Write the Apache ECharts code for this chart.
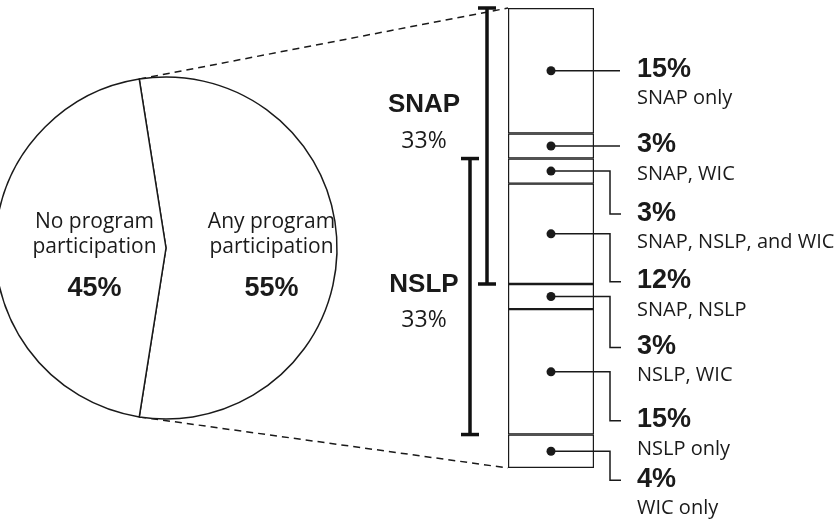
<!DOCTYPE html>
<html>
<head>
<meta charset="utf-8">
<script src="https://cdn.jsdelivr.net/npm/echarts@6/dist/echarts.min.js"></script>
<style>
    html, body { margin: 0; padding: 0; background: #fff; }
    #chart { width: 836px; height: 525px; }
</style>
</head>
<body>
<div id="chart"></div>
<script>
// pie: share of households by participation
const pieNames = ['Any program\nparticipation', 'No program\nparticipation'];
const pieValues = [55, 45];

// breakdown of the "any program" slice, top to bottom
const segmentNames = ['SNAP only', 'SNAP, WIC', 'SNAP, NSLP, and WIC', 'SNAP, NSLP', 'NSLP, WIC', 'NSLP only', 'WIC only'];
const segmentValues = [15, 3, 3, 12, 3, 15, 4];

// programs bracketed next to the bar (first and last segment index)
const programNames = ['SNAP', 'NSLP'];
const programShares = [33, 33];
const programSpans = [[0, 3], [2, 5]];

// layout only
const PIE_CENTER = [166, 248];
const PIE_RADIUS = 171;
const PIE_START = 90 + (pieValues[0] - 50) * 1.8;
const labelDy = [0, 0, 43, 48, 51, 49, 29];
const bracketGap = [21, 38];
const bracketLabelDy = [97, 126];
const INK = '#1a1a1a';

const starts = [];
segmentValues.reduce((acc, v) => { starts.push(acc); return acc + v; }, 0);
const total = segmentValues.reduce((a, b) => a + b, 0);

const chart = echarts.init(document.getElementById('chart'));

const textEl = (text, x, y, font, align) => ({
    type: 'text',
    style: {
        text: text, x: x, y: y, font: font, fill: INK,
        align: align, verticalAlign: 'middle',
        textAlign: align, textVerticalAlign: 'middle'
    }
});

const renderConnector = (params, api) => {
    const i = params.dataIndex;
    const c = api.coord([0, starts[i] + segmentValues[i] / 2]);
    const cx = c[0], cy = c[1];
    const ly = cy + labelDy[i];
    const pts = labelDy[i] === 0
        ? [[cx, cy], [cx + 69, cy]]
        : [[cx, cy], [cx + 59, cy], [cx + 59, ly], [cx + 70, ly]];
    return {
        type: 'group',
        children: [
            { type: 'polyline', shape: { points: pts }, style: { stroke: INK, lineWidth: 1.5, fill: null } },
            { type: 'circle', shape: { cx: cx, cy: cy, r: 4.5 }, style: { fill: INK } },
            textEl(segmentValues[i] + '%', cx + 86, ly - 1, 'bold 27px "Liberation Sans", Arial, sans-serif', 'left'),
            textEl(segmentNames[i], cx + 86, ly + 28, '20px "Open Sans", sans-serif', 'left')
        ]
    };
};

const renderBracket = (params, api) => {
    const i = params.dataIndex;
    const span = programSpans[i];
    const top = api.coord([0, starts[span[0]]]);
    const bot = api.coord([0, starts[span[1]] + segmentValues[span[1]]]);
    const left = top[0] - api.size([1, 0])[0] / 2;
    const x = left - bracketGap[i];
    const st = { stroke: '#111', lineWidth: 3.5 };
    const ly = top[1] + bracketLabelDy[i];
    return {
        type: 'group',
        children: [
            { type: 'line', shape: { x1: x, y1: top[1], x2: x, y2: bot[1] }, style: st },
            { type: 'line', shape: { x1: x - 9, y1: top[1], x2: x + 9, y2: top[1] }, style: st },
            { type: 'line', shape: { x1: x - 9, y1: bot[1], x2: x + 9, y2: bot[1] }, style: st },
            textEl(programNames[i], left - 84, ly, 'bold 26px "Liberation Sans", Arial, sans-serif', 'center'),
            textEl(programShares[i] + '%', left - 84, ly + 36, '23px "Open Sans", sans-serif', 'center')
        ]
    };
};

const renderGuides = (params, api) => {
    const half = api.size([1, 0])[0] / 2;
    const t = api.coord([0, 0]);
    const b = api.coord([0, total]);
    const a = PIE_START * Math.PI / 180;
    const tipX = PIE_CENTER[0] + PIE_RADIUS * Math.cos(a);
    const tipDy = PIE_RADIUS * Math.sin(a);
    const st = { stroke: INK, lineWidth: 1.5, lineDash: [7, 5] };
    return {
        type: 'group',
        children: [
            { type: 'line', shape: { x1: tipX, y1: PIE_CENTER[1] - tipDy, x2: t[0] - half, y2: t[1] }, style: st },
            { type: 'line', shape: { x1: tipX, y1: PIE_CENTER[1] + tipDy, x2: b[0] - half, y2: b[1] }, style: st }
        ]
    };
};

const barSeries = segmentValues.map((v, i) => ({
    type: 'bar',
    name: segmentNames[i],
    stack: 'mix',
    barWidth: '100%',
    silent: true,
    itemStyle: { color: '#fff', borderColor: INK, borderWidth: 1.2 },
    data: [v]
}));

const options = {
    animation: false,
    grid: { left: 508, top: 8, width: 86, height: 460 },
    xAxis: { type: 'category', data: ['any'], show: false },
    yAxis: { type: 'value', min: 0, max: total, inverse: true, show: false },
    series: [
        {
            type: 'pie',
            center: PIE_CENTER,
            radius: PIE_RADIUS,
            startAngle: PIE_START,
            silent: true,
            itemStyle: { color: '#fff', borderColor: INK, borderWidth: 1.5 },
            label: {
                show: true,
                position: 'inside',
                padding: [31, 0, 0, 34],
                formatter: (p) => p.name.split('\n').map(s => `{a|${s}}`).join('\n') + `\n{b|${p.value}%}`,
                rich: {
                    a: { fontFamily: '"Open Sans", sans-serif', fontSize: 21, lineHeight: 25, color: INK },
                    b: { fontFamily: '"Liberation Sans", Arial, sans-serif', fontWeight: 'bold', fontSize: 27, lineHeight: 58, color: INK }
                }
            },
            labelLine: { show: false },
            data: pieNames.map((n, i) => ({ name: n, value: pieValues[i] }))
        },
        ...barSeries,
        {
            type: 'custom',
            clip: false,
            silent: true,
            renderItem: renderGuides,
            data: [[0, 0]]
        },
        {
            type: 'custom',
            clip: false,
            silent: true,
            renderItem: renderBracket,
            data: programNames.map((n, i) => [0, i])
        },
        {
            type: 'custom',
            clip: false,
            silent: true,
            z: 5,
            renderItem: renderConnector,
            data: segmentValues.map((v, i) => [0, starts[i] + v / 2])
        }
    ]
};

chart.setOption(options);
</script>
</body>
</html>
